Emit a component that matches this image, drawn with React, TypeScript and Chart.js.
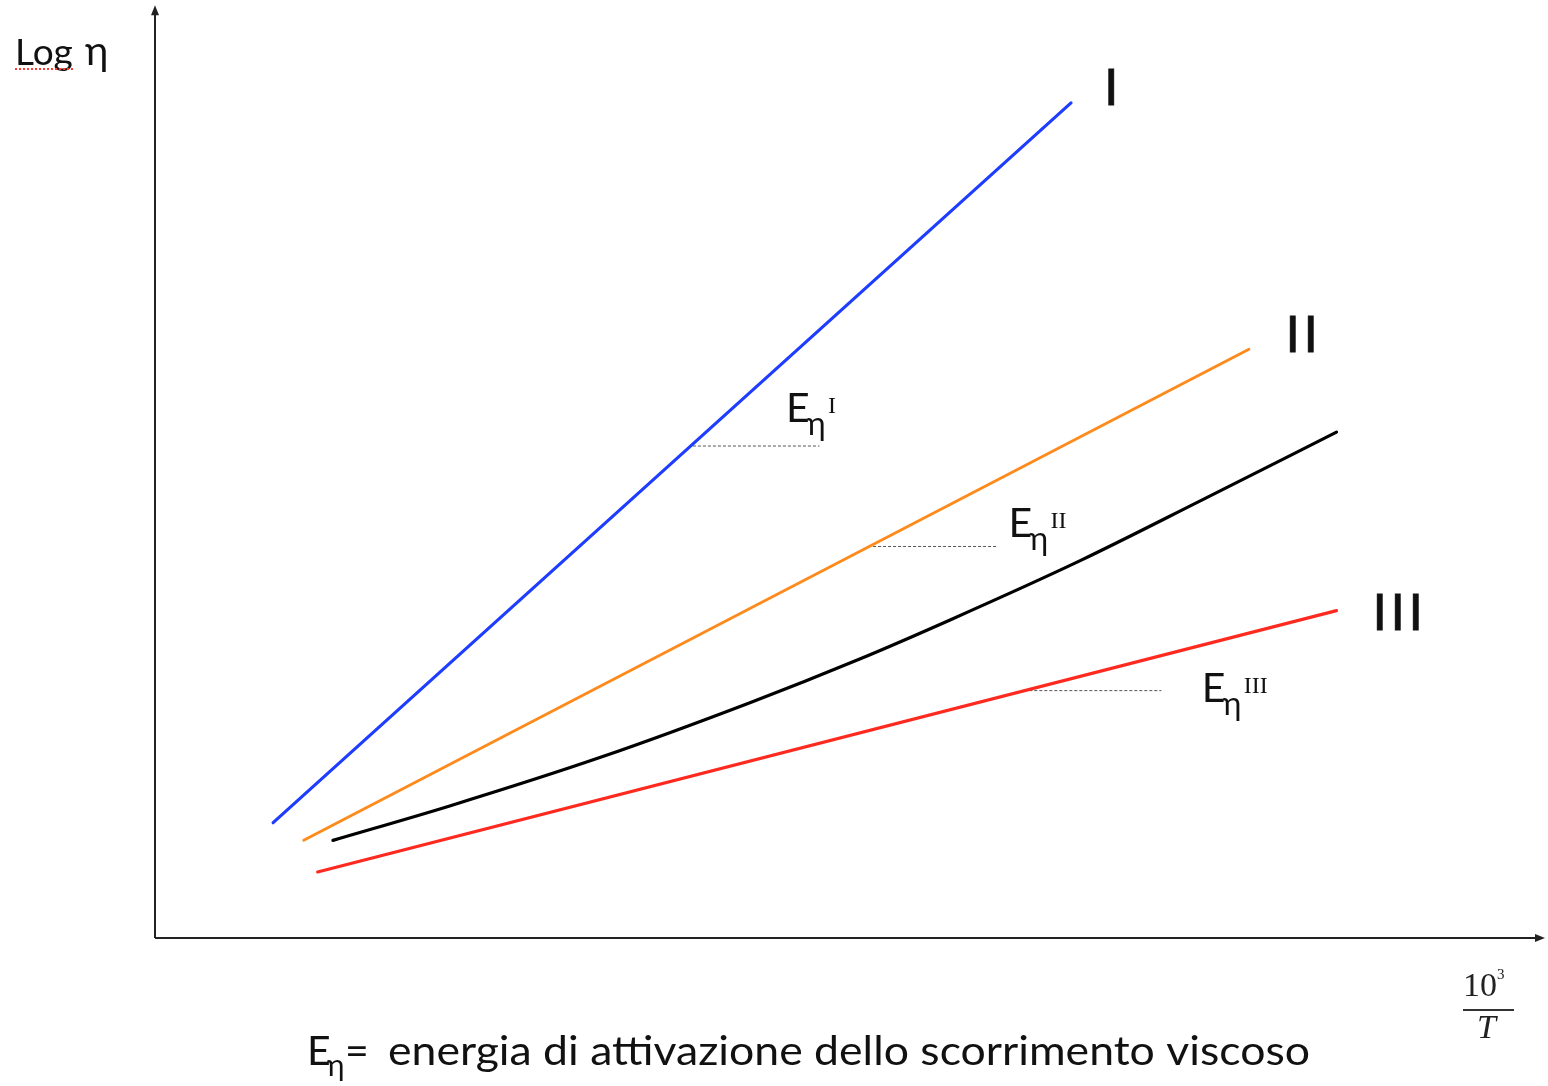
import { useEffect, useRef } from "react";
import { Chart, registerables } from "chart.js";

Chart.register(...registerables);

// x = 10^3/T, y = log η (arbitrary units)
const lineIX = [0.85, 6.59];
const lineIY = [1.24, 8.98];
const lineIIX = [1.07, 7.87];
const lineIIY = [1.05, 6.33];
const lineIIIX = [1.17, 8.5];
const lineIIIY = [0.71, 3.52];

// non-Arrhenius (curved) behaviour
const curveX = [1.28, 2.12, 3.2, 4.28, 5.07, 5.72, 6.66, 7.52, 8.5];
const curveY = [1.05, 1.42, 1.94, 2.53, 3.0, 3.42, 4.06, 4.7, 5.44];

// horizontal reference segments used to read the slopes
const slopeIX = [3.87, 4.78];
const slopeIY = [5.29, 5.29];
const slopeIIX = [5.13, 6.06];
const slopeIIY = [4.21, 4.21];
const slopeIIIX = [6.29, 7.24];
const slopeIIIY = [2.66, 2.66];

// names of the three straight lines and of their activation energies
const seriesNames = ["I", "II", "III"];
const romanAnchorX = [6.88, 8.25, 8.94];
const romanAnchorY = [8.96, 6.3, 3.31];
const energyAnchorX = [4.54, 6.14, 7.53];
const energyAnchorY = [5.55, 4.31, 2.54];

const yAxisTitle = ["Log", "η"];
const caption = "energia di attivazione dello scorrimento viscoso";

const SANS = 'Lato, "Open Sans", sans-serif';
const SERIF = '"Liberation Serif", "DejaVu Serif", serif';

const pts = (xs: number[], ys: number[]) => xs.map((x, i) => ({ x, y: ys[i] }));

function drawFit(ctx: CanvasRenderingContext2D, text: string, x: number, y: number, width: number) {
  const w = ctx.measureText(text).width;
  ctx.save();
  ctx.translate(x, y);
  ctx.scale(width / w, 1);
  ctx.textAlign = "left";
  ctx.fillText(text, 0, 0);
  ctx.restore();
}

const annotations = {
  id: "annotations",
  beforeDatasetsDraw(chart: Chart) {
    const { ctx } = chart;
    const xs = chart.scales.x;
    const ys = chart.scales.y;
    const x0 = xs.getPixelForValue(0);
    const y0 = ys.getPixelForValue(0);
    const xEnd = xs.getPixelForValue(10);
    const yEnd = ys.getPixelForValue(10.03);
    ctx.save();
    ctx.strokeStyle = "#222";
    ctx.fillStyle = "#222";
    ctx.lineWidth = 2;
    ctx.beginPath();
    ctx.moveTo(x0, y0);
    ctx.lineTo(x0, yEnd + 6);
    ctx.moveTo(x0, y0);
    ctx.lineTo(xEnd - 6, y0);
    ctx.stroke();
    // arrow heads
    ctx.beginPath();
    ctx.moveTo(x0, yEnd);
    ctx.lineTo(x0 - 4, yEnd + 10);
    ctx.lineTo(x0 + 4, yEnd + 10);
    ctx.closePath();
    ctx.fill();
    ctx.beginPath();
    ctx.moveTo(xEnd, y0);
    ctx.lineTo(xEnd - 10, y0 - 4);
    ctx.lineTo(xEnd - 10, y0 + 4);
    ctx.closePath();
    ctx.fill();
    ctx.restore();
  },
  afterDraw(chart: Chart) {
    const { ctx } = chart;
    const xs = chart.scales.x;
    const ys = chart.scales.y;
    const x0 = xs.getPixelForValue(0);
    const y0 = ys.getPixelForValue(0);
    const xEnd = xs.getPixelForValue(10);
    ctx.save();
    ctx.fillStyle = "#111";
    ctx.strokeStyle = "#111";
    ctx.textBaseline = "alphabetic";

    // roman numerals at the end of the lines
    ctx.font = `50px ${SANS}`;
    ctx.textAlign = "center";
    ctx.lineWidth = 1;
    (ctx as any).letterSpacing = "4px";
    seriesNames.forEach((n, i) => {
      const px = xs.getPixelForValue(romanAnchorX[i]) + 2;
      const py = ys.getPixelForValue(romanAnchorY[i]);
      ctx.fillText(n, px, py);
      ctx.strokeText(n, px, py);
    });
    (ctx as any).letterSpacing = "0px";

    // activation energy labels E_η^n
    seriesNames.forEach((n, i) => {
      const ex = xs.getPixelForValue(energyAnchorX[i]);
      const ey = ys.getPixelForValue(energyAnchorY[i]);
      ctx.textAlign = "left";
      ctx.font = `41px ${SANS}`;
      ctx.fillText("E", ex, ey);
      ctx.font = `32px ${SANS}`;
      ctx.fillText("η", ex + 21, ey + 13);
      ctx.font = `24px ${SERIF}`;
      ctx.fillText(n, ex + 42, ey - 9);
    });

    // y axis title with its dotted underline
    ctx.textAlign = "left";
    ctx.font = `37px ${SANS}`;
    ctx.fillText(yAxisTitle[0], x0 - 140, 65);
    ctx.font = `40px ${SANS}`;
    ctx.fillText(yAxisTitle[1], x0 - 70, 65);
    ctx.strokeStyle = "#ff3b30";
    ctx.lineWidth = 2;
    ctx.setLineDash([2, 2]);
    ctx.beginPath();
    ctx.moveTo(x0 - 140, 69);
    ctx.lineTo(x0 - 80, 69);
    ctx.stroke();
    ctx.setLineDash([]);

    // x axis title 10^3 / T
    const fx = xEnd - 82;
    ctx.fillStyle = "#222";
    ctx.font = `34px ${SERIF}`;
    ctx.fillText("10", fx, y0 + 58);
    ctx.font = `15px ${SERIF}`;
    ctx.fillText("3", fx + 34, y0 + 41);
    ctx.strokeStyle = "#333";
    ctx.lineWidth = 2;
    ctx.beginPath();
    ctx.moveTo(fx, y0 + 72);
    ctx.lineTo(fx + 51, y0 + 72);
    ctx.stroke();
    ctx.font = `italic 34px ${SERIF}`;
    ctx.fillText("T", fx + 14, y0 + 100);

    // caption
    ctx.fillStyle = "#111";
    ctx.font = `41px ${SANS}`;
    ctx.fillText("E", 307, y0 + 127);
    ctx.font = `30px ${SANS}`;
    ctx.fillText("η", 327, y0 + 138);
    ctx.font = `41px ${SANS}`;
    ctx.fillText("=", 345, y0 + 127);
    drawFit(ctx, caption, 388, y0 + 127, 922);
    ctx.restore();
  },
};

export default function App() {
  const ref = useRef<HTMLCanvasElement>(null);
  useEffect(() => {
    if (!ref.current) return;
    const solid = (label: string, data: any, color: string, width: number) => ({
      label,
      data,
      borderColor: color,
      borderWidth: width,
      pointRadius: 0,
      borderCapStyle: "round" as const,
      fill: false,
    });
    const dashed = (label: string, data: any) => ({
      label,
      data,
      borderColor: "#555",
      borderWidth: 1,
      borderDash: [3, 2],
      pointRadius: 0,
      fill: false,
    });
    const chart = new Chart(ref.current, {
      type: "line",
      data: {
        datasets: [
          solid("I", pts(lineIX, lineIY), "#1f3dff", 3.2),
          solid("II", pts(lineIIX, lineIIY), "#ff8a1c", 2.8),
          { ...solid("curve", pts(curveX, curveY), "#000000", 3.2), cubicInterpolationMode: "monotone" as const },
          solid("III", pts(lineIIIX, lineIIIY), "#ff2a1f", 3.2),
          dashed("ΔI", pts(slopeIX, slopeIY)),
          dashed("ΔII", pts(slopeIIX, slopeIIY)),
          dashed("ΔIII", pts(slopeIIIX, slopeIIIY)),
        ],
      },
      options: {
        responsive: false,
        animation: false,
        layout: { padding: { left: 155, right: 3, top: 8, bottom: 148 } },
        scales: {
          x: { type: "linear", min: 0, max: 10, display: false },
          y: { type: "linear", min: 0, max: 10, display: false },
        },
        plugins: { legend: { display: false }, tooltip: { enabled: false } },
      },
      plugins: [annotations],
    });
    return () => chart.destroy();
  }, []);
  return (
    <div style={{ position: "fixed", left: 0, top: 0, width: 1548, height: 1086, background: "#fff" }}>
      <canvas ref={ref} width={1548} height={1086} style={{ display: "block" }} />
    </div>
  );
}
